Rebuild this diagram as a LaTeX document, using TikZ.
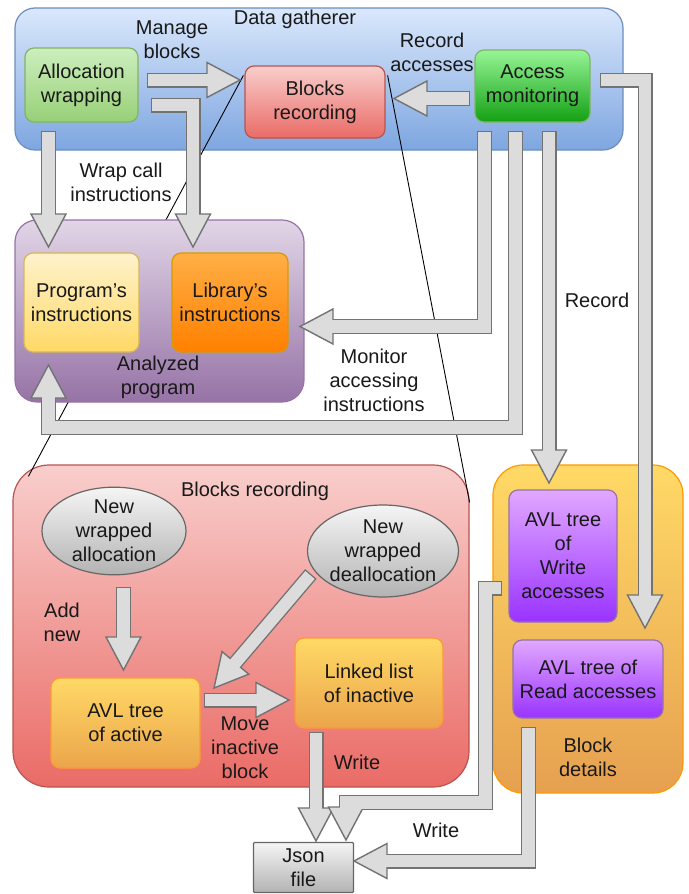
\documentclass[tikz,border=0pt]{standalone}
\usepackage{fontspec}
\setmainfont{Liberation Sans}
\usetikzlibrary{calc,shapes.geometric}
\definecolor{arrbd}{HTML}{737373}
\definecolor{arrfill}{HTML}{DCDCDC}
\definecolor{dgbd}{HTML}{6C8EBF}
\newcommand\blockarrow[3]{%
  \coordinate (bb) at ($(#3)!33pt!(#2)$);
  \draw[bashaftout] #1 -- (bb);
  \filldraw[bahead] (#3) -- ($(bb)!17.5pt!90:(#3)$) -- ($(bb)!17.5pt!-90:(#3)$) -- cycle;
  \draw[bashaftin] #1 -- (bb);
}
\tikzset{
  every node/.style={font=\fontsize{20}{24}\selectfont, align=center, text=black!90},
  box/.style={draw, line width=1.2pt, rounded corners=9pt, inner sep=0pt},
  lbl/.style={inner sep=0pt},
  bashaftout/.style={draw=arrbd, line width=15pt, line join=miter, shorten <=-1.4pt},
  bashaftin/.style={draw=arrfill, line width=12.2pt, line join=miter, shorten >=-1.6pt},
  bahead/.style={draw=arrbd, fill=arrfill, line width=1.4pt, line join=miter},
  thinline/.style={draw=black, line width=0.9pt},
}
\begin{document}
\begin{tikzpicture}[x=1pt,y=-1pt]
\useasboundingbox (0,0) rectangle (688,894);
\fill[white] (0,0) rectangle (688,894);

% Data gatherer
\node[box, rounded corners=20pt, draw=dgbd, top color={rgb,255:red,218;green,232;blue,252}, bottom color={rgb,255:red,126;green,166;blue,224}, minimum width=608pt, minimum height=142pt] (dg) at (319,79) {};
\node[lbl] (dgl) at (295,19) {Data gatherer};

\node[box, draw={rgb,255:red,130;green,179;blue,102}, top color={rgb,255:red,205;green,238;blue,190}, bottom color={rgb,255:red,151;green,208;blue,119}, minimum width=113pt, minimum height=74pt] (alloc) at (81.5,85) {Allocation\\wrapping};
\node[box, draw={rgb,255:red,184;green,84;blue,80}, top color={rgb,255:red,248;green,206;blue,204}, bottom color={rgb,255:red,234;green,107;blue,102}, minimum width=140pt, minimum height=72pt] (blocks) at (315,102) {Blocks\\recording};
\node[box, draw={rgb,255:red,130;green,179;blue,102}, top color={rgb,255:red,150;green,245;blue,150}, bottom color={rgb,255:red,20;green,160;blue,20}, minimum width=115pt, minimum height=72pt] (access) at (532.5,86) {Access\\monitoring};

% Blocks recording (detail)
\node[box, rounded corners=36pt, draw={rgb,255:red,184;green,84;blue,80}, top color={rgb,255:red,248;green,206;blue,204}, bottom color={rgb,255:red,234;green,107;blue,102}, minimum width=456pt, minimum height=322pt] (br) at (241,626) {};

% zoom lines
\coordinate (z1a) at ($(blocks.north west)+(-1,10)$);
\coordinate (z2a) at ($(blocks.north east)+(2,10)$);
\coordinate (z1b) at ($(br.north west)+(16,12)$);
\coordinate (z2b) at ($(br.north east)+(0,38)$);
\draw[thinline] (z1a) -- (z1b);
\draw[thinline] (z2a) -- (z2b);

% Analyzed program
\node[box, rounded corners=22pt, draw={rgb,255:red,150;green,115;blue,166}, top color={rgb,255:red,225;green,213;blue,231}, bottom color={rgb,255:red,150;green,115;blue,166}, minimum width=289pt, minimum height=182pt] (ap) at (159.5,311) {};
\node[lbl] (apl) at (158,377) {Analyzed\\program};
\node[box, draw={rgb,255:red,214;green,182;blue,86}, top color={rgb,255:red,255;green,242;blue,204}, bottom color={rgb,255:red,255;green,217;blue,102}, minimum width=115pt, minimum height=99pt] (prog) at (81.5,302.5) {Program's\\instructions};
\node[box, draw={rgb,255:red,215;green,155;blue,0}, top color={rgb,255:red,255;green,175;blue,70}, bottom color={rgb,255:red,255;green,128;blue,0}, minimum width=116pt, minimum height=99pt] (lib) at (230,302.5) {Library's\\instructions};

\node[lbl] (brl) at (255,491) {Blocks recording};
\node[ellipse, draw={rgb,255:red,102;green,102;blue,102}, line width=1.2pt, inner sep=0pt, top color={rgb,255:red,245;green,245;blue,245}, bottom color={rgb,255:red,179;green,179;blue,179}, minimum width=144pt, minimum height=84pt] (ell1) at (114,531) {New\\wrapped\\allocation};
\node[ellipse, draw={rgb,255:red,102;green,102;blue,102}, line width=1.2pt, inner sep=0pt, top color={rgb,255:red,245;green,245;blue,245}, bottom color={rgb,255:red,179;green,179;blue,179}, minimum width=146pt, minimum height=92pt] (ell2) at (383,551) {New\\wrapped\\deallocation};
\node[box, draw={rgb,255:red,255;green,153;blue,51}, top color={rgb,255:red,255;green,217;blue,102}, bottom color={rgb,255:red,235;green,165;blue,75}, minimum width=149pt, minimum height=90pt] (avlact) at (125.5,723) {AVL tree\\of active};
\node[box, draw={rgb,255:red,255;green,153;blue,51}, top color={rgb,255:red,255;green,217;blue,102}, bottom color={rgb,255:red,235;green,165;blue,75}, minimum width=148pt, minimum height=90pt] (linked) at (369,683) {Linked list\\of inactive};

% Block details
\node[box, rounded corners=30pt, draw={rgb,255:red,255;green,153;blue,0}, top color={rgb,255:red,255;green,217;blue,102}, bottom color={rgb,255:red,230;green,160;blue,80}, minimum width=190pt, minimum height=328pt] (bd) at (588,629) {};
\node[lbl] (bdl) at (588,757) {Block\\details};
\node[box, draw={rgb,255:red,150;green,115;blue,166}, top color={rgb,255:red,225;green,168;blue,255}, bottom color={rgb,255:red,153;green,51;blue,255}, minimum width=108pt, minimum height=132pt] (wavl) at (563,556) {AVL tree\\of\\Write\\accesses};
\node[box, draw={rgb,255:red,150;green,115;blue,166}, top color={rgb,255:red,225;green,168;blue,255}, bottom color={rgb,255:red,153;green,51;blue,255}, minimum width=150pt, minimum height=78pt] (ravl) at (588,679) {AVL tree of\\Read accesses};

\node[box, rounded corners=1pt, draw={rgb,255:red,102;green,102;blue,102}, top color={rgb,255:red,245;green,245;blue,245}, bottom color={rgb,255:red,179;green,179;blue,179}, minimum width=100pt, minimum height=50pt] (json) at (303.5,867.5) {Json\\file};

% labels
\node[lbl] (l1) at (172,40) {Manage\\blocks};
\node[lbl] (l2) at (432,52) {Record\\accesses};
\node[lbl] (l3) at (121,182) {Wrap call\\instructions};
\node[lbl] (l4) at (374,380) {Monitor\\accessing\\instructions};
\node[lbl] (l5) at (597,300) {Record};
\node[lbl] (l6) at (62,622) {Add\\new};
\node[lbl] (l7) at (245,748) {Move\\inactive\\block};
\node[lbl] (l8) at (357,762) {Write};
\node[lbl] (l9) at (436,830) {Write};

% arrow waypoints
\coordinate (a1s) at (148,80);   \coordinate (a1t) at (240,80);
\coordinate (a2s) at (469,98.5); \coordinate (a2t) at (394,98.5);
\coordinate (a3s) at (152,105);  \coordinate (a3m) at (193,105);  \coordinate (a3t) at (193,247);
\coordinate (a4s) at (48.5,132); \coordinate (a4t) at (48.5,247);
\coordinate (a5s) at (484.5,132); \coordinate (a5m) at (484.5,326.5); \coordinate (a5t) at (300,326.5);
\coordinate (a6s) at (515.5,132); \coordinate (a6m) at (515.5,427.5); \coordinate (a6n) at (48.5,427.5); \coordinate (a6t) at (48.5,365);
\coordinate (a7s) at (549,132); \coordinate (a7t) at (549,483);
\coordinate (a8s) at (601,80); \coordinate (a8m) at (645,80); \coordinate (a8t) at (645,628);
\coordinate (b1s) at (123.5,588); \coordinate (b1t) at (123.5,670);
\coordinate (b2s) at (205,700); \coordinate (b2t) at (289,700);
\coordinate (b3s) at (310,575); \coordinate (b3t) at (214,688);
\coordinate (b4s) at (316,733); \coordinate (b4t) at (316,841);
\coordinate (b5s) at (501,588); \coordinate (b5m) at (485.5,588); \coordinate (b5n) at (485.5,802.5); \coordinate (b5o) at (346,802.5); \coordinate (b5t) at (346,840);
\coordinate (b6s) at (528.5,728); \coordinate (b6m) at (528.5,861); \coordinate (b6t) at (354,861);

\blockarrow{(a1s)}{a1s}{a1t}
\blockarrow{(a2s)}{a2s}{a2t}
\blockarrow{(a3s) -- (a3m)}{a3m}{a3t}
\blockarrow{(a4s)}{a4s}{a4t}
\blockarrow{(a5s) -- (a5m)}{a5m}{a5t}
\blockarrow{(a6s) -- (a6m) -- (a6n)}{a6n}{a6t}
\blockarrow{(a7s)}{a7s}{a7t}
\blockarrow{(a8s) -- (a8m)}{a8m}{a8t}
\blockarrow{(b1s)}{b1s}{b1t}
\blockarrow{(b2s)}{b2s}{b2t}
\blockarrow{(b3s)}{b3s}{b3t}
\blockarrow{(b4s)}{b4s}{b4t}
\blockarrow{(b5s) -- (b5m) -- (b5n) -- (b5o)}{b5o}{b5t}
\blockarrow{(b6s) -- (b6m)}{b6m}{b6t}
\end{tikzpicture}
\end{document}
